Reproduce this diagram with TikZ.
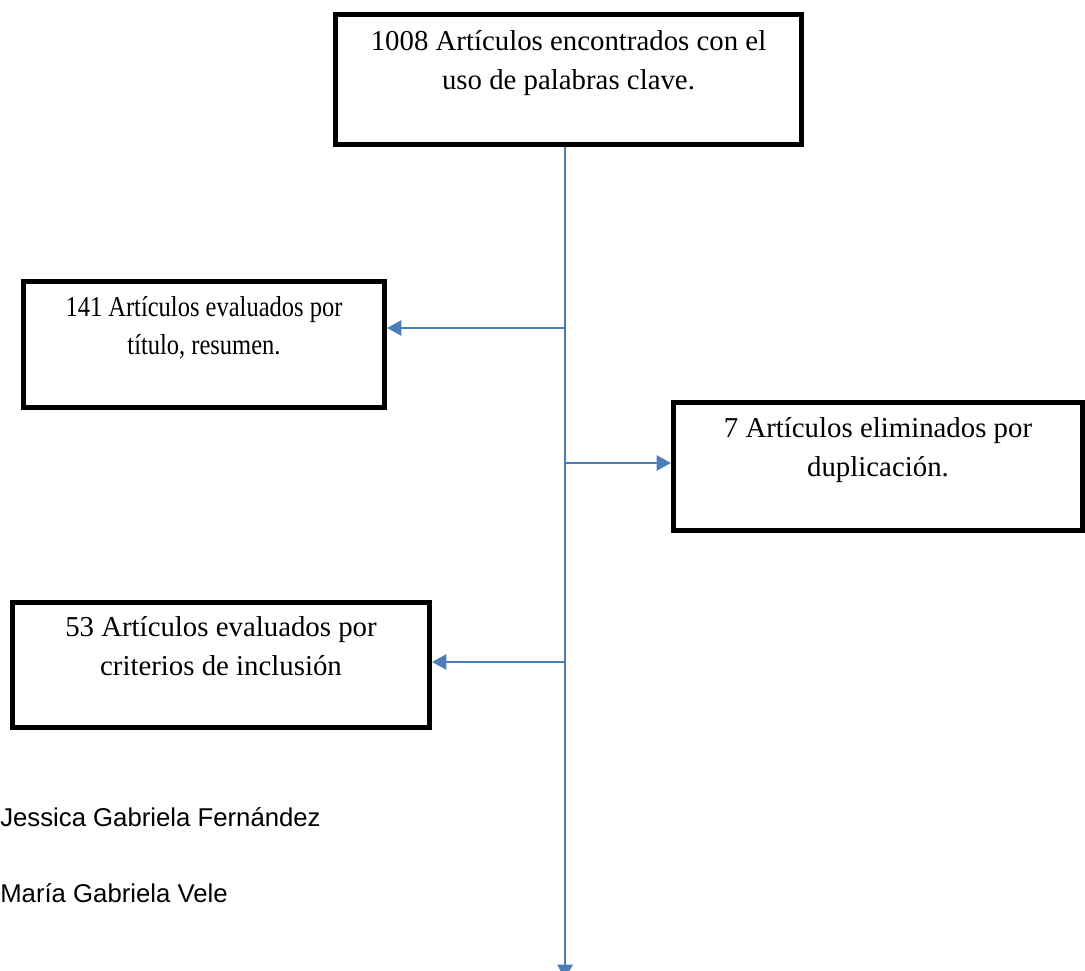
\documentclass[tikz,border=0pt]{standalone}
\usepackage{fontspec}
\setmainfont{Liberation Serif}
\newfontfamily\narrowserif[FakeStretch=0.85]{Liberation Serif}
\newfontfamily\namefont{Liberation Sans}
\usetikzlibrary{arrows.meta}
\definecolor{flowblue}{HTML}{4A7EBB}
\tikzset{
	stage/.style = {draw, line width=0.125cm, align=center},
	big/.style = {font=\fontsize{20.5}{27.7}\selectfont},
	narrow/.style = {font=\narrowserif\fontsize{20.5}{27}\selectfont},
	flow/.style = {draw=flowblue, line width=0.06cm, -{Triangle[length=0.36cm, width=0.38cm]}},
	author/.style = {anchor=west, inner sep=0, font=\namefont\fontsize{18.3}{22}\selectfont},
}

\begin{document}
\begin{tikzpicture}[x=0.025cm, y=-0.025cm]
	\useasboundingbox (0, 0) rectangle (1085, 971);
	\node[stage, big, minimum width=11.65cm, minimum height=3.25cm] (found) at (568.5, 79.5)
		{1008 Artículos encontrados con el\\uso de palabras clave.\\~};
	\node[stage, narrow, minimum width=9.025cm, minimum height=3.15cm] (title) at (204, 344.5)
		{141 Artículos evaluados por\\título, resumen.\\~};
	\node[stage, big, minimum width=10.225cm, minimum height=3.2cm] (dup) at (878, 466.5)
		{7 Artículos eliminados por\\duplicación.\\~};
	\node[stage, big, minimum width=10.425cm, minimum height=3.125cm] (incl) at (221, 665)
		{53 Artículos evaluados por\\criterios de inclusión\\~};
	\coordinate (split1) at (565, 328);
	\coordinate (split2) at (565, 463);
	\coordinate (split3) at (565, 662);
	\coordinate (tail) at (565, 979);
	\draw[flow] (found.south -| tail) -- (tail);
	\draw[flow] (split1) -- (split1 -| title.east);
	\draw[flow] (split2) -- (split2 -| dup.west);
	\draw[flow] (split3) -- (split3 -| incl.east);
	\node[author] (jessica) at (0, 817) {Jessica Gabriela Fernández};
	\node[author] (maria) at (0, 893) {María Gabriela Vele};
\end{tikzpicture}
\end{document}
